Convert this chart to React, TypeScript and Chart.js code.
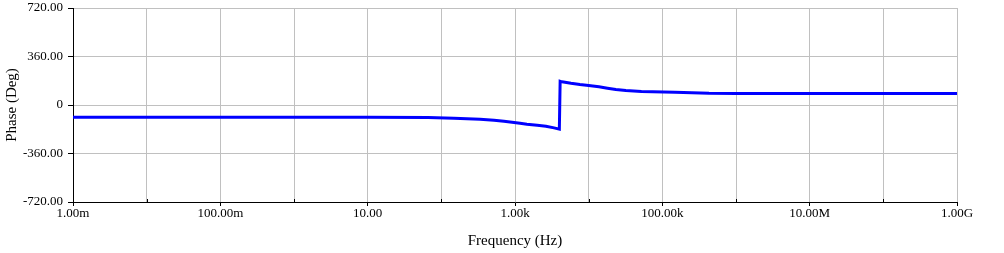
import React, { useEffect, useRef } from "react";
import { Chart, registerables } from "chart.js";

Chart.register(...registerables);

// Frequency (Hz) samples and phase (deg)
const freqHz = [
  0.001, 1, 10, 66, 148, 335, 519, 708, 912, 1170, 1450, 2000, 2630, 3390, 4000,
  4100, 4350, 5750, 7600, 10000, 13800, 18000, 23400, 32000, 52000, 148000, 430000, 1e6, 1e9,
];
const phaseDeg = [
  -91, -91, -91, -92, -98, -106, -114, -121, -128, -136, -143, -151, -158, -170, -179,
  176, 172, 161, 152, 145, 135, 125, 115, 108, 100, 94, 87, 86, 86,
];

const xTickValues = [1e-3, 1e-2, 1e-1, 1, 10, 100, 1e3, 1e4, 1e5, 1e6, 1e7, 1e8, 1e9];
const xTickLabels = ["1.00m", "", "100.00m", "", "10.00", "", "1.00k", "", "100.00k", "", "10.00M", "", "1.00G"];
const yTickValues = [-720, -360, 0, 360, 720];
const yTickLabels = ["-720.00", "-360.00", "0", "360.00", "720.00"];

const FONT = "'Liberation Serif', 'Times New Roman', serif";

const minorTicks = {
  id: "minorTicks",
  afterDatasetsDraw(chart: any) {
    const { ctx, chartArea, scales } = chart;
    const xs = scales.x;
    ctx.save();
    ctx.strokeStyle = "#000000";
    ctx.lineWidth = 1;
    xTickValues.forEach((v, i) => {
      if (i % 2 === 1) {
        const px = Math.round(xs.getPixelForValue(v)) + 0.5;
        ctx.beginPath();
        ctx.moveTo(px, chartArea.bottom);
        ctx.lineTo(px, chartArea.bottom - 3);
        ctx.stroke();
      }
    });
    ctx.restore();
  },
};

export default function App() {
  const ref = useRef<HTMLCanvasElement | null>(null);
  useEffect(() => {
    if (!ref.current) return;
    const points = freqHz.map((f, i) => ({ x: f, y: phaseDeg[i] }));
    const chart = new Chart(ref.current, {
      type: "line",
      data: {
        datasets: [
          {
            data: points,
            borderColor: "#0000ff",
            borderWidth: 3,
            pointRadius: 0,
            tension: 0,
            fill: false,
          },
        ],
      },
      options: {
        animation: false,
        responsive: false,
        devicePixelRatio: 1,
        layout: { padding: { left: 0, right: 47, top: 8, bottom: 0 } },
        plugins: { legend: { display: false }, tooltip: { enabled: false } },
        scales: {
          x: {
            type: "logarithmic",
            min: 1e-3,
            max: 1e9,
            afterBuildTicks: (s: any) => {
              s.ticks = xTickValues.map((v) => ({ value: v }));
            },
            afterFit: (s: any) => {
              s.height = 51;
              s.paddingLeft = 0;
              s.paddingRight = 0;
            },
            grid: {
              color: "#c0c0c0",
              lineWidth: 1,
              tickLength: 4,
              tickColor: (c: any) => (c.index % 2 === 0 ? "#000000" : "rgba(0,0,0,0)"),
            },
            border: { color: "#000000", width: 1 },
            ticks: {
              autoSkip: false,
              maxRotation: 0,
              padding: 0,
              color: "#000000",
              font: { family: FONT, size: 13 },
              callback: (_v: any, i: number) => xTickLabels[i],
            },
            title: {
              display: true,
              text: "Frequency (Hz)",
              color: "#000000",
              font: { family: FONT, size: 15 },
              padding: { top: 0, bottom: 3 },
            },
          },
          y: {
            type: "linear",
            min: -720,
            max: 720,
            afterBuildTicks: (s: any) => {
              s.ticks = yTickValues.map((v) => ({ value: v }));
            },
            afterFit: (s: any) => {
              s.width = 73;
              s.paddingTop = 0;
              s.paddingBottom = 0;
            },
            grid: {
              color: "#c0c0c0",
              lineWidth: 1,
              tickLength: 5,
              tickColor: "#000000",
            },
            border: { color: "#000000", width: 1 },
            ticks: {
              padding: 5,
              color: "#000000",
              font: { family: FONT, size: 13 },
              callback: (_v: any, i: number) => yTickLabels[i],
            },
            title: {
              display: true,
              text: "Phase (Deg)",
              color: "#000000",
              font: { family: FONT, size: 15 },
              padding: { top: 3, bottom: 0 },
            },
          },
        },
      },
      plugins: [minorTicks],
    } as any);
    return () => chart.destroy();
  }, []);
  return (
    <div style={{ position: "fixed", left: 0, top: 0, width: 1004, height: 253, background: "#ffffff" }}>
      <canvas ref={ref} width={1004} height={253} style={{ width: 1004, height: 253, display: "block" }} />
    </div>
  );
}
